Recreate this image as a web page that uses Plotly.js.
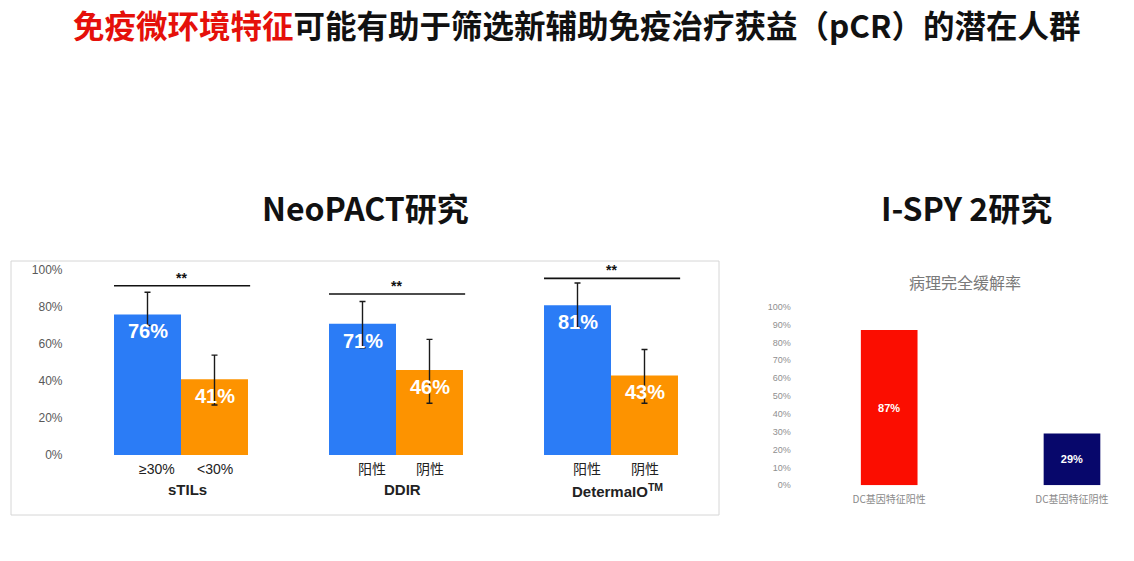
<!DOCTYPE html>
<html>
<head>
<meta charset="utf-8">
<script src="https://cdn.plot.ly/plotly-3.0.1.min.js"></script>
<style>html,body{margin:0;padding:0;background:#fff;}#chart{width:1134px;height:561px;}</style>
</head>
<body>
<div id="chart"></div>
<script>
// ---- data ----
const groups = ['sTILs', 'DDIR', 'DetermaIO<sup>TM</sup>'];
const posLabels = ['≥30%', '阳性', '阳性'];
const negLabels = ['<30%', '阴性', '阴性'];
const posValues = [76, 71, 81];
const negValues = [41, 46, 43];
const posErrUp = [12, 12, 12];
const posErrDown = [6, 13, 12];
const negErrUp = [13, 16.5, 14];
const negErrDown = [14, 18, 15];
const sigLevel = [91.5, 87, 95.5];
const sigMark = ['**', '**', '**'];
const leftTicks = [0, 20, 40, 60, 80, 100];

const ispyCats = ['DC基因特征阳性', 'DC基因特征阴性'];
const ispyValues = [87, 29];
const ispyTicks = [0, 10, 20, 30, 40, 50, 60, 70, 80, 90, 100];

const mainTitleRed = '免疫微环境特征';
const mainTitleRest = '可能有助于筛选新辅助免疫治疗获益（pCR）的潜在人群';
const leftHeading = 'NeoPACT研究';
const rightHeading = 'I-SPY 2研究';
const rightSubTitle = '病理完全缓解率';

// ---- style ----
const BLUE = '#2b7cf6', ORANGE = '#fd9300', RED = '#fb0d00', NAVY = '#07076b';
const CJK = '"Noto Sans CJK SC", "Liberation Sans", Arial, sans-serif';
const SANS = '"Liberation Sans", Arial, "Noto Sans CJK SC", sans-serif';
const barW = 0.3116;
const idx = groups.map((_, i) => i);

const errStyle = {type: 'data', symmetric: false, color: '#1a1a1a', thickness: 1.4, width: 3};

const traces = [
  {
    type: 'bar', x: idx, y: posValues, marker: {color: BLUE}, xaxis: 'x', yaxis: 'y',
    error_y: Object.assign({}, errStyle, {array: posErrUp, arrayminus: posErrDown}),
    hoverinfo: 'skip', showlegend: false
  },
  {
    type: 'bar', x: idx, y: negValues, marker: {color: ORANGE}, xaxis: 'x', yaxis: 'y',
    error_y: Object.assign({}, errStyle, {array: negErrUp, arrayminus: negErrDown}),
    hoverinfo: 'skip', showlegend: false
  },
  {
    type: 'bar', x: ispyCats, y: ispyValues, width: 0.31, xaxis: 'x2', yaxis: 'y2',
    marker: {color: [RED, NAVY], line: {width: 0}},
    text: ispyValues.map(v => v + '%'), textposition: 'inside', insidetextanchor: 'middle',
    textfont: {color: '#ffffff', size: 11, family: SANS, weight: 'bold'}, constraintext: 'none',
    hoverinfo: 'skip', showlegend: false
  }
];

const W = 1134, H = 561;
const px = v => v / W, py = v => (H - v) / H;

const annotations = [];
const shapes = [];

// left box
shapes.push({type: 'rect', xref: 'paper', yref: 'paper', x0: px(11), x1: px(719), y0: py(515), y1: py(261),
  line: {color: '#d6d6d6', width: 1}, fillcolor: 'rgba(0,0,0,0)', layer: 'below'});

idx.forEach(i => {
  // value labels inside bars (drawn above error bars)
  annotations.push({x: i - barW / 2, y: posValues[i], xref: 'x', yref: 'y', text: '<b>' + posValues[i] + '%</b>',
    showarrow: false, yanchor: 'middle', yshift: -17, font: {size: 20, color: '#ffffff', family: SANS}});
  annotations.push({x: i + barW / 2, y: negValues[i], xref: 'x', yref: 'y', text: '<b>' + negValues[i] + '%</b>',
    showarrow: false, yanchor: 'middle', yshift: -17, font: {size: 20, color: '#ffffff', family: SANS}});
  // category sub-labels
  annotations.push({x: i - barW / 2, y: 0, xref: 'x', yref: 'y', text: posLabels[i], showarrow: false,
    yanchor: 'top', yshift: -4, xshift: 9, font: {size: 14, color: '#222', family: SANS}});
  annotations.push({x: i + barW / 2, y: 0, xref: 'x', yref: 'y', text: negLabels[i], showarrow: false,
    yanchor: 'top', yshift: -4, font: {size: 14, color: '#222', family: SANS}});
  annotations.push({x: i, y: 0, xref: 'x', yref: 'y', text: '<b>' + groups[i] + '</b>', showarrow: false,
    yanchor: 'top', yshift: -24, xshift: 6, font: {size: 15, color: '#222', family: SANS}});
  // significance
  shapes.push({type: 'line', xref: 'x', yref: 'y', x0: i - barW, x1: i + barW + 0.01, y0: sigLevel[i], y1: sigLevel[i],
    line: {color: '#111', width: 1.6}});
  annotations.push({x: i, y: sigLevel[i], xref: 'x', yref: 'y', text: '<b>' + sigMark[i] + '</b>', showarrow: false,
    yanchor: 'bottom', yshift: -2, font: {size: 14, color: '#111', family: SANS}});
});

// headings
annotations.push({xref: 'paper', yref: 'paper', x: px(576), y: 1, showarrow: false, xanchor: 'center', yanchor: 'top',
  borderpad: 0,
  text: '<b><span style="color:#e5100a">' + mainTitleRed + '</span>' + mainTitleRest + '</b>',
  font: {size: 31.5, color: '#111', family: CJK}});
annotations.push({xref: 'paper', yref: 'paper', x: px(365), y: py(207), showarrow: false, xanchor: 'center', yanchor: 'middle',
  text: '<b>' + leftHeading + '</b>', font: {size: 32, color: '#111', family: CJK}});
annotations.push({xref: 'paper', yref: 'paper', x: px(966), y: py(207), showarrow: false, xanchor: 'center', yanchor: 'middle',
  text: '<b>' + rightHeading + '</b>', font: {size: 32, color: '#111', family: CJK}});
annotations.push({xref: 'paper', yref: 'paper', x: px(965), y: py(282), showarrow: false, xanchor: 'center', yanchor: 'middle',
  text: rightSubTitle, font: {size: 16, color: '#7a7a7a', family: CJK}});

const layout = {
  width: W, height: H,
  margin: {l: 0, r: 0, t: 0, b: 0, pad: 0},
  paper_bgcolor: '#ffffff', plot_bgcolor: 'rgba(0,0,0,0)',
  barmode: 'group', bargap: 1 - 2 * barW, bargroupgap: 0,
  xaxis: {domain: [px(73.5), px(718.5)], range: [-0.5, 2.5], showticklabels: false, showgrid: false,
    zeroline: false, showline: false, ticks: '', fixedrange: true},
  yaxis: {domain: [py(455), py(270)], range: [0, 100], tickvals: leftTicks, ticktext: leftTicks.map(v => v + '%'),
    showgrid: false, zeroline: false, showline: false, ticks: '', ticklabelstandoff: 10,
    tickfont: {size: 12, color: '#595959', family: SANS}, fixedrange: true},
  xaxis2: {domain: [px(797.8), px(1125)], range: [-0.5, 1.29], type: 'category', showgrid: false, zeroline: false,
    showline: false, ticks: '', ticklabelstandoff: 7, tickfont: {size: 10, color: '#8a8a8a', family: CJK}, anchor: 'y2', fixedrange: true},
  yaxis2: {domain: [py(485.3), py(306.7)], range: [0, 100], tickvals: ispyTicks, ticktext: ispyTicks.map(v => v + '%'),
    showgrid: false, zeroline: false, showline: false, ticks: '', ticklabelstandoff: 6, anchor: 'x2',
    tickfont: {size: 9, color: '#8f8f8f', family: SANS}, fixedrange: true},
  annotations: annotations,
  shapes: shapes,
  showlegend: false
};

Plotly.newPlot('chart', traces, layout, {displayModeBar: false, staticPlot: true});
</script>
</body>
</html>
